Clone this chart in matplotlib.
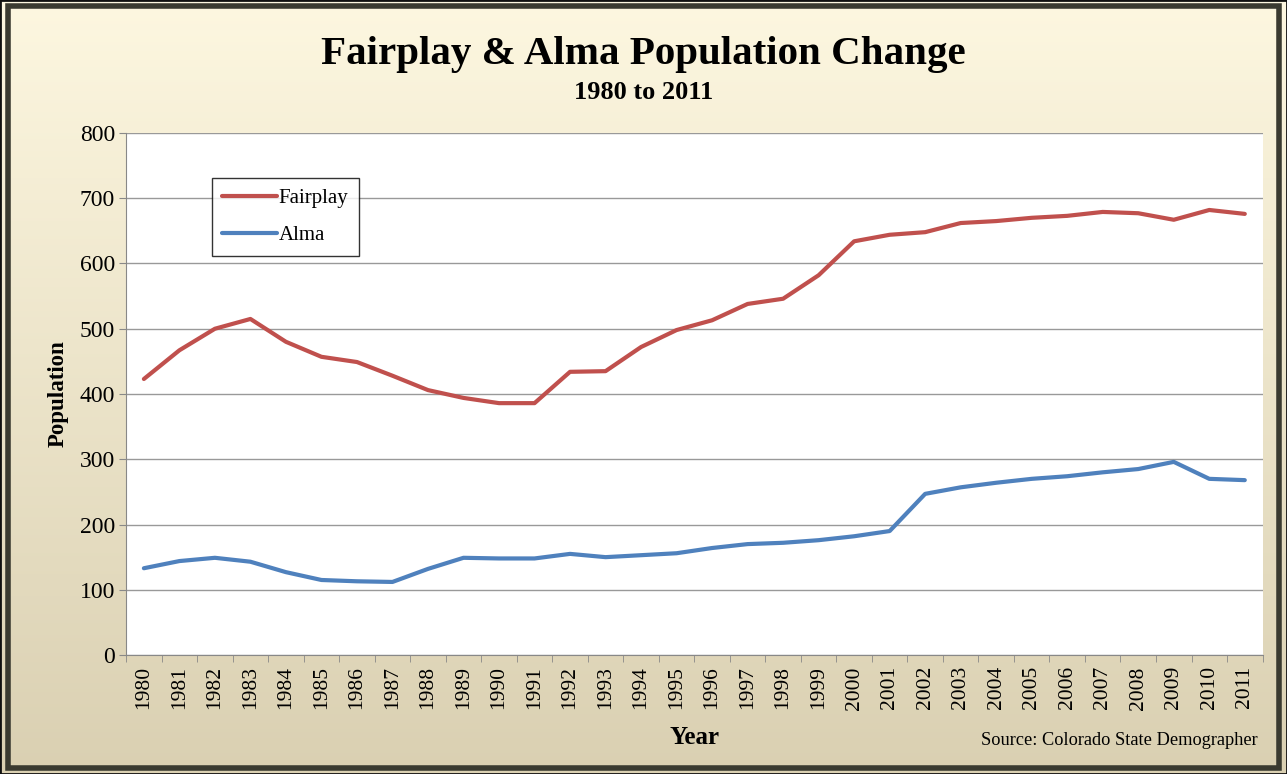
import numpy as np
import matplotlib
matplotlib.use("Agg")
import matplotlib.pyplot as plt
from matplotlib.patches import Rectangle

years = [str(y) for y in range(1980, 2012)]
fairplay = [423, 467, 500, 515, 480, 457, 449, 428, 406, 394, 386, 386,
            434, 435, 472, 498, 513, 538, 546, 582, 634, 644, 648, 662,
            665, 670, 673, 679, 677, 667, 682, 676]
alma = [133, 144, 149, 143, 127, 115, 113, 112, 132, 149, 148, 148,
        155, 150, 153, 156, 164, 170, 172, 176, 182, 190, 247, 257,
        264, 270, 274, 280, 285, 296, 270, 268]

plt.rcParams['font.family'] = ['Liberation Serif', 'DejaVu Serif']

fig = plt.figure(figsize=(12.87, 7.74), dpi=100)

# cream gradient background
bg = fig.add_axes([0, 0, 1, 1], zorder=-10)
top = np.array([253, 247, 224]) / 255
bot = np.array([218, 208, 178]) / 255
t = np.linspace(0, 1, 256)[:, None]
grad = (top * (1 - t) + bot * t)[:, None, :].repeat(2, axis=1)
bg.imshow(grad, aspect='auto', extent=[0, 1, 0, 1], origin='upper')
bg.add_patch(Rectangle((0.006, 0.008), 0.988, 0.984, fill=False,
                       edgecolor='#3a3a30', linewidth=4, transform=bg.transAxes))
bg.add_patch(Rectangle((0.0, 0.0), 1, 1, fill=False,
                       edgecolor='#101010', linewidth=2, transform=bg.transAxes))
bg.set_xlim(0, 1)
bg.set_ylim(0, 1)
bg.axis('off')

ax = fig.add_axes([0.098, 0.1537, 0.883, 0.6745])
ax.set_facecolor('white')
x = np.arange(len(years))
ax.plot(x, fairplay, color='#C0504D', linewidth=3, label='Fairplay', solid_capstyle='round')
ax.plot(x, alma, color='#4F81BD', linewidth=3, label='Alma', solid_capstyle='round')

ax.set_xlim(-0.5, len(years) - 0.5)
ax.set_ylim(0, 800)
ax.set_yticks(range(0, 801, 100))
ax.set_xticks(x)
ax.set_xticklabels(years, rotation=90)
ax.set_xticks(np.arange(-0.5, len(years), 1), minor=True)
ax.tick_params(axis='x', which='major', length=0, labelsize=15.5, pad=8)
ax.tick_params(axis='x', which='minor', length=5, color='#888888')
ax.tick_params(axis='y', length=5, color='#888888', labelsize=17, pad=3)
ax.grid(axis='y', color='#999999', linewidth=1)
ax.set_axisbelow(True)
for s in ['top', 'right']:
    ax.spines[s].set_visible(False)
ax.spines['left'].set_color('#888888')
ax.spines['bottom'].set_color('#888888')

ax.set_ylabel('Population', fontsize=16.5, fontweight='bold', labelpad=8)
ax.set_xlabel('Year', fontsize=18, fontweight='bold', labelpad=12)

leg = ax.legend(loc='upper left', bbox_to_anchor=(0.0756, 0.914), fontsize=15,
                frameon=True, fancybox=False, edgecolor='black', handlelength=2.6,
                handletextpad=0.1, borderpad=0.5, labelspacing=0.85, borderaxespad=0)
leg.get_frame().set_linewidth(1)

fig.text(0.5, 0.929, 'Fairplay & Alma Population Change', ha='center', va='center',
         fontsize=29.5, fontweight='bold')
fig.text(0.5, 0.881, '1980 to 2011', ha='center', va='center',
         fontsize=19, fontweight='bold')
fig.text(0.977, 0.043, 'Source: Colorado State Demographer', ha='right', va='center',
         fontsize=13.2)

fig.savefig('out.png', dpi=100)
